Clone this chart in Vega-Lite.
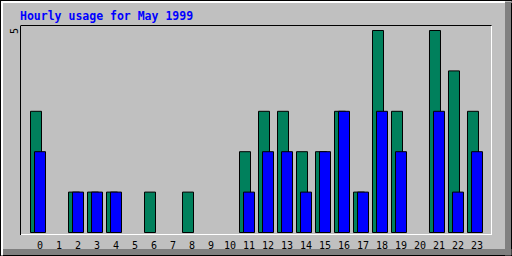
{
  "$schema": "https://vega.github.io/schema/vega-lite/v6.json",
  "width": 510,
  "height": 254,
  "autosize": {"type": "none"},
  "padding": {"left": 1, "top": 1, "right": 1, "bottom": 1},
  "background": "#000000",
  "title": {
    "text": "Hourly usage for May 1999",
    "anchor": "start",
    "frame": "group",
    "font": "DejaVu Sans Mono",
    "fontSize": 11.5,
    "fontWeight": "bold",
    "color": "#0000ff",
    "baseline": "alphabetic",
    "offset": -33.4,
    "dx": 19
  },
  "data": {
    "values": [
      {"hour": 0, "hits": 3, "files": 2},
      {"hour": 1, "hits": 0, "files": 0},
      {"hour": 2, "hits": 1, "files": 1},
      {"hour": 3, "hits": 1, "files": 1},
      {"hour": 4, "hits": 1, "files": 1},
      {"hour": 5, "hits": 0, "files": 0},
      {"hour": 6, "hits": 1, "files": 0},
      {"hour": 7, "hits": 0, "files": 0},
      {"hour": 8, "hits": 1, "files": 0},
      {"hour": 9, "hits": 0, "files": 0},
      {"hour": 10, "hits": 0, "files": 0},
      {"hour": 11, "hits": 2, "files": 1},
      {"hour": 12, "hits": 3, "files": 2},
      {"hour": 13, "hits": 3, "files": 2},
      {"hour": 14, "hits": 2, "files": 1},
      {"hour": 15, "hits": 2, "files": 2},
      {"hour": 16, "hits": 3, "files": 3},
      {"hour": 17, "hits": 1, "files": 1},
      {"hour": 18, "hits": 5, "files": 3},
      {"hour": 19, "hits": 3, "files": 2},
      {"hour": 20, "hits": 0, "files": 0},
      {"hour": 21, "hits": 5, "files": 3},
      {"hour": 22, "hits": 4, "files": 1},
      {"hour": 23, "hits": 3, "files": 2}
    ]
  },
  "config": {
    "view": {"stroke": null, "fill": "#c0c0c0"},
    "axis": {
      "grid": false,
      "ticks": false,
      "tickSize": 0,
      "title": null,
      "labelFont": "DejaVu Sans Mono",
      "labelFontSize": 10,
      "labelColor": "#000000",
      "labelFlush": false,
      "labelOverlap": false,
      "labelBound": false
    }
  },
  "resolve": {
    "scale": {"x": "independent", "y": "independent"},
    "axis": {"x": "independent", "y": "independent"}
  },
  "layer": [
    {
      "transform": [{"filter": "datum.hits > 0"}],
      "mark": {"type": "bar", "width": 11, "xOffset": -4, "fill": "#00805c", "stroke": "#000000", "strokeWidth": 1},
      "encoding": {
        "x": {
          "field": "hour", "type": "ordinal",
          "scale": {"domain": [0,1,2,3,4,5,6,7,8,9,10,11,12,13,14,15,16,17,18,19,20,21,22,23], "range": [19, 490], "paddingInner": 0, "paddingOuter": 0.39474, "align": 0.7},
          "axis": {"orient": "bottom", "offset": -21, "domainColor": "#ffffff", "domainWidth": 1, "labelAngle": 0, "labelPadding": 6, "labelBaseline": "top", "labelAlign": "center"}
        },
        "y": {
          "field": "hits", "type": "quantitative",
          "scale": {"domain": [-0.0495, 5.1238], "range": [233.5, 24.5], "nice": false, "zero": false},
          "axis": {"orient": "left", "offset": -19, "values": [5], "domainColor": "#000000", "domainWidth": 1, "labelAngle": 270, "labelAlign": "center", "labelBaseline": "alphabetic", "labelPadding": 3}
        }
      }
    },
    {
      "transform": [{"filter": "datum.files > 0"}],
      "mark": {"type": "bar", "width": 11, "fill": "#0000ff", "stroke": "#000000", "strokeWidth": 1},
      "encoding": {
        "x": {
          "field": "hour", "type": "ordinal",
          "scale": {"domain": [0,1,2,3,4,5,6,7,8,9,10,11,12,13,14,15,16,17,18,19,20,21,22,23], "range": [19, 490], "paddingInner": 0, "paddingOuter": 0.39474, "align": 0.7},
          "axis": {"orient": "top", "offset": -24, "domainColor": "#000000", "domainWidth": 1, "labels": false}
        },
        "y": {
          "field": "files", "type": "quantitative",
          "scale": {"domain": [-0.0495, 5.1238], "range": [233.5, 24.5], "nice": false, "zero": false},
          "axis": {"orient": "right", "offset": -20, "domainColor": "#ffffff", "domainWidth": 1, "labels": false}
        }
      }
    },
    {
      "mark": {"type": "point", "opacity": 0},
      "encoding": {
        "x": {
          "field": "hour", "type": "quantitative",
          "scale": {"domain": [0, 23], "range": [0, 510], "nice": false, "zero": false},
          "axis": {"orient": "top", "offset": -0.5, "domainColor": "#ffffff", "domainWidth": 2, "labels": false}
        },
        "y": {
          "field": "hits", "type": "quantitative",
          "scale": {"domain": [0, 5], "range": [254, 0], "nice": false, "zero": false},
          "axis": {"orient": "left", "offset": -0.5, "domainColor": "#ffffff", "domainWidth": 2, "labels": false}
        }
      }
    },
    {
      "mark": {"type": "point", "opacity": 0},
      "encoding": {
        "x": {
          "field": "hour", "type": "quantitative",
          "scale": {"domain": [0, 23], "range": [0, 510], "nice": false, "zero": false},
          "axis": {"orient": "bottom", "offset": -3.5, "domainColor": "#808080", "domainWidth": 6, "labels": false}
        },
        "y": {
          "field": "files", "type": "quantitative",
          "scale": {"domain": [0, 5], "range": [254, 0], "nice": false, "zero": false},
          "axis": {"orient": "right", "offset": -3.5, "domainColor": "#808080", "domainWidth": 6, "labels": false}
        }
      }
    }
  ]
}
